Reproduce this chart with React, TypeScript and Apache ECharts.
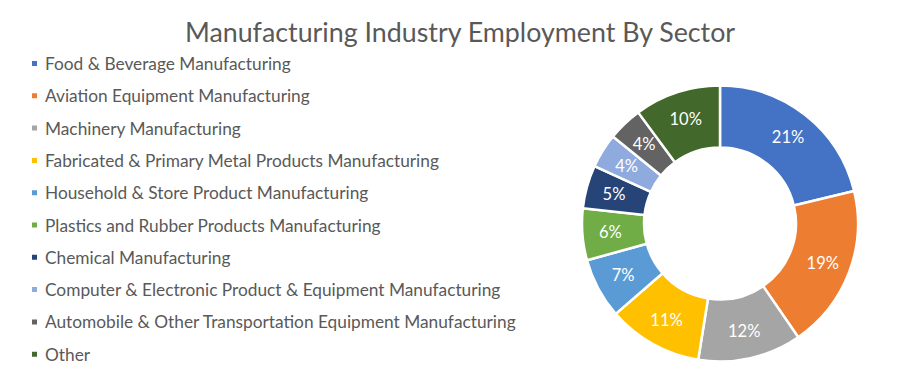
import React, { useEffect, useRef } from "react";
import * as echarts from "echarts";

const categories = [
  "Food & Beverage Manufacturing",
  "Aviation Equipment Manufacturing",
  "Machinery Manufacturing",
  "Fabricated & Primary Metal Products Manufacturing",
  "Household & Store Product Manufacturing",
  "Plastics and Rubber Products Manufacturing",
  "Chemical Manufacturing",
  "Computer & Electronic Product & Equipment Manufacturing",
  "Automobile & Other Transportation Equipment Manufacturing",
  "Other",
];

const shares = [21, 19, 12, 11, 7, 6, 5, 4, 4, 10];

const colors = [
  "#4472C4",
  "#ED7D31",
  "#A5A5A5",
  "#FFC000",
  "#5B9BD5",
  "#70AD47",
  "#264478",
  "#8FAADC",
  "#636363",
  "#43682B",
];

const FONT = "Lato, 'Open Sans', sans-serif";

export default function App() {
  const ref = useRef<HTMLDivElement>(null);
  useEffect(() => {
    if (!ref.current) return;
    const chart = echarts.init(ref.current, undefined, { renderer: "svg" });
    chart.setOption({
      animation: false,
      color: colors,
      backgroundColor: "#ffffff",
      title: {
        text: "Manufacturing Industry Employment By Sector",
        left: "center",
        top: 13,
        textStyle: {
          fontFamily: FONT,
          fontSize: 26.8,
          fontWeight: "normal",
          color: "#595959",
        },
      },
      legend: {
        orient: "vertical",
        left: 25,
        top: 48.5,
        icon: "rect",
        itemWidth: 7,
        itemHeight: 7,
        itemGap: 12.3,
        textStyle: {
          fontFamily: FONT,
          fontSize: 17.3,
          lineHeight: 20,
          color: "#595959",
          padding: [0, 0, 0, 2],
        },
        data: categories,
      },
      series: [
        {
          type: "pie",
          center: [720, 223.5],
          radius: [76, 138],
          startAngle: 90,
          clockwise: true,
          avoidLabelOverlap: false,
          itemStyle: { borderColor: "#ffffff", borderWidth: 2.5 },
          label: {
            show: true,
            position: "inside",
            formatter: "{c}%",
            color: "#ffffff",
            fontFamily: FONT,
            fontSize: 16.5,
          },
          labelLine: { show: false },
          data: categories.map((name, i) => ({ name, value: shares[i] })),
        },
      ],
    });
    return () => chart.dispose();
  }, []);
  return (
    <div
      ref={ref}
      style={{ position: "fixed", left: 0, top: 0, width: 920, height: 382 }}
    />
  );
}
